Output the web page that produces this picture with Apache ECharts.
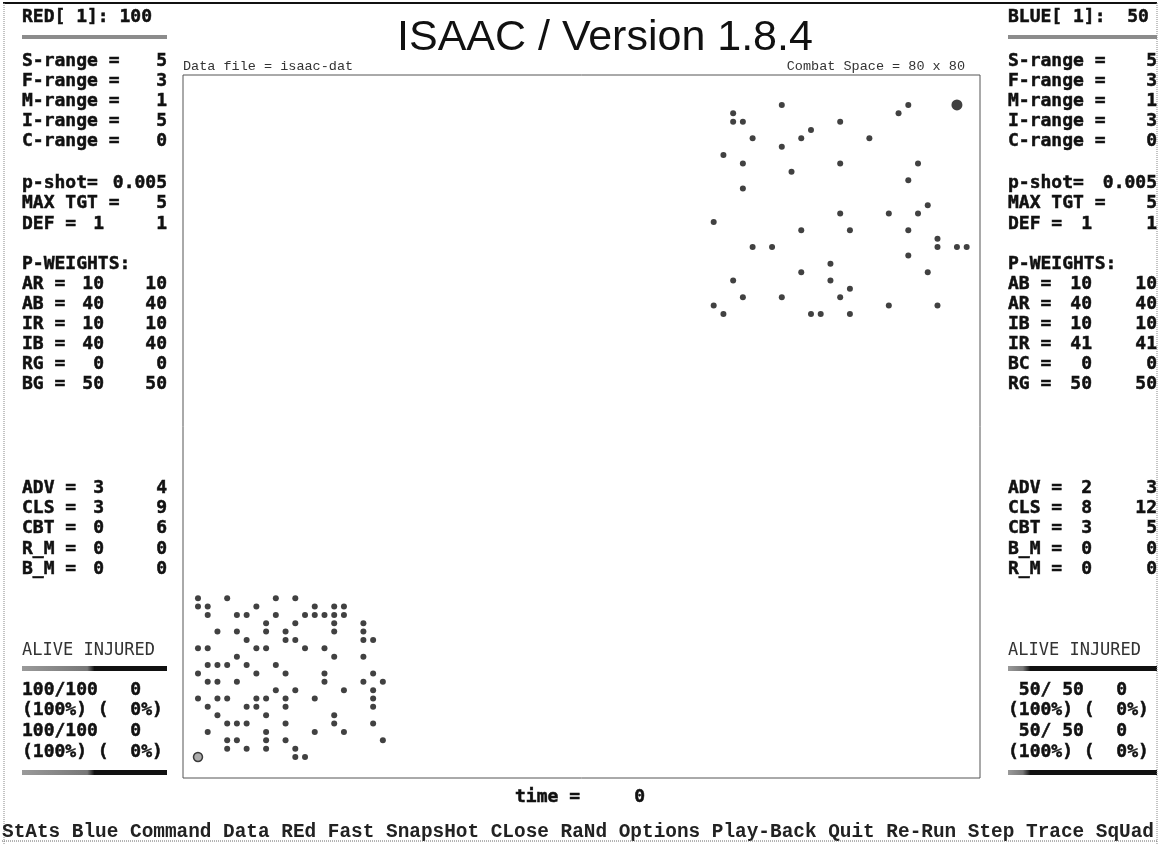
<!DOCTYPE html>
<html>
<head>
<meta charset="utf-8">
<title>ISAAC / Version 1.8.4</title>
<script src="https://cdn.jsdelivr.net/npm/echarts@6/dist/echarts.min.js"></script>
<style>
  html, body { margin: 0; padding: 0; background: #fff; }
  #main { width: 1160px; height: 844px; }
</style>
</head>
<body>
<div id="main"></div>
<script>
// agents on the 80 x 80 combat space, [column, row]
var blueAgents = [
  [60,78],[73,78],[55,77],[72,77],[55,76],[56,76],[66,76],[63,75],
  [57,74],[62,74],[69,74],[60,73],[54,72],[56,71],[66,71],[74,71],
  [61,70],[73,69],[56,68],[75,66],[66,65],[71,65],[74,65],[53,64],
  [62,63],[67,63],[73,63],[76,62],[57,61],[59,61],[76,61],[78,61],
  [79,61],[73,60],[65,59],[62,58],[75,58],[55,57],[65,57],[67,56],
  [56,55],[60,55],[66,55],[53,54],[71,54],[76,54],[54,53],[63,53],
  [64,53],[67,53]
];
var blueLeader = [[78,78]];

var redAgents = [
  [0,19],[3,19],[8,19],[10,19],
  [0,18],[1,18],[6,18],[12,18],[14,18],[15,18],
  [1,17],[4,17],[5,17],[8,17],[11,17],[12,17],[13,17],[14,17],[15,17],
  [7,16],[10,16],[14,16],[17,16],
  [2,15],[4,15],[7,15],[9,15],[14,15],[17,15],
  [5,14],[9,14],[10,14],[17,14],[18,14],
  [0,13],[1,13],[6,13],[7,13],[11,13],[13,13],
  [4,12],[14,12],[17,12],
  [1,11],[2,11],[3,11],[5,11],[8,11],
  [0,10],[6,10],[9,10],[13,10],[18,10],
  [1,9],[2,9],[4,9],[13,9],[17,9],[19,9],
  [8,8],[10,8],[15,8],[18,8],
  [0,7],[2,7],[3,7],[6,7],[7,7],[9,7],[12,7],[18,7],
  [1,6],[5,6],[6,6],[9,6],[18,6],
  [2,5],[7,5],[14,5],
  [3,4],[4,4],[5,4],[9,4],[14,4],[18,4],
  [1,3],[7,3],[12,3],[15,3],
  [3,2],[4,2],[7,2],[9,2],[19,2],
  [3,1],[5,1],[7,1],[10,1],
  [10,0],[11,0]
];
var redLeader = [[0,0]];

// side panel values
var redHeader = 'RED[ 1]: 100';
var blueHeader = 'BLUE[ 1]:  50';
var redRanges = [['S-range =','5'],['F-range =','3'],['M-range =','1'],['I-range =','5'],['C-range =','0']];
var blueRanges = [['S-range =','5'],['F-range =','3'],['M-range =','1'],['I-range =','3'],['C-range =','0']];
var redShot = [['p-shot=','0.005'],['MAX TGT =','5']];
var blueShot = [['p-shot=','0.005'],['MAX TGT =','5']];
var redDef = ['DEF =','1','1'];
var blueDef = ['DEF =','1','1'];
var redWeights = [['AR =','10','10'],['AB =','40','40'],['IR =','10','10'],['IB =','40','40'],['RG =','0','0'],['BG =','50','50']];
var blueWeights = [['AB =','10','10'],['AR =','40','40'],['IB =','10','10'],['IR =','41','41'],['BC =','0','0'],['RG =','50','50']];
var redMoves = [['ADV =','3','4'],['CLS =','3','9'],['CBT =','0','6'],['R_M =','0','0'],['B_M =','0','0']];
var blueMoves = [['ADV =','2','3'],['CLS =','8','12'],['CBT =','3','5'],['B_M =','0','0'],['R_M =','0','0']];
var redStatus = ['100/100   0','(100%) (  0%)','100/100   0','(100%) (  0%)'];
var blueStatus = [' 50/ 50   0','(100%) (  0%)',' 50/ 50   0','(100%) (  0%)'];
var menuItems = ['StAts','Blue','Command','Data','REd','Fast','SnapsHot','CLose','RaNd','Options','Play-Back','Quit','Re-Run','Step','Trace','SqUad'];
var timeStep = 0;

var mono = "'DejaVu Sans Mono', monospace";
var panelFont = 'bold 18px ' + mono;
var els = [];

function txt(x, y, s, align, font, color, heavy) {
  els.push({
    type: 'text', x: x, y: y, silent: true,
    style: {
      text: s, font: font || panelFont, fill: color || '#111',
      stroke: heavy === false ? null : (color || '#111'), lineWidth: heavy === false ? 0 : 0.5,
      align: align || 'left', verticalAlign: 'middle',
      textAlign: align || 'left', textVerticalAlign: 'middle'
    }
  });
}
function bar(x, y, w, h, fill) {
  els.push({ type: 'rect', silent: true, shape: { x: x, y: y, width: w, height: h }, style: { fill: fill } });
}
function line(x1, y1, x2, y2, color, width, dash) {
  els.push({ type: 'line', silent: true, shape: { x1: x1, y1: y1, x2: x2, y2: y2 },
    style: { stroke: color, lineWidth: width, lineDash: dash || null } });
}
function aliveBar(x, y, w, grayPart) {
  bar(x, y, w, 5, new echarts.graphic.LinearGradient(0, 0, 1, 0, [
    { offset: 0, color: '#9a9a9a' }, { offset: grayPart, color: '#777' },
    { offset: grayPart + 0.05, color: '#111' }, { offset: 1, color: '#111' }
  ]));
}

function panel(x0, x1, x2, header, ranges, shot, def, weights, moves, status, gray) {
  txt(x0, 17, header);
  bar(x0, 35, x2 - x0, 4, '#8c8c8c');
  ranges.forEach(function (r, i) { txt(x0, 61 + i * 20.2, r[0]); txt(x2, 61 + i * 20.2, r[1], 'right'); });
  shot.forEach(function (r, i) { txt(x0, 183 + i * 20.5, r[0]); txt(x2, 183 + i * 20.5, r[1], 'right'); });
  txt(x0, 224, def[0]); txt(x1, 224, def[1], 'right'); txt(x2, 224, def[2], 'right');
  txt(x0, 264, 'P-WEIGHTS:');
  weights.forEach(function (r, i) {
    txt(x0, 284 + i * 20, r[0]); txt(x1, 284 + i * 20, r[1], 'right'); txt(x2, 284 + i * 20, r[2], 'right');
  });
  moves.forEach(function (r, i) {
    txt(x0, 488 + i * 20.3, r[0]); txt(x1, 488 + i * 20.3, r[1], 'right'); txt(x2, 488 + i * 20.3, r[2], 'right');
  });
  txt(x0, 651, 'ALIVE INJURED', 'left', '17px ' + mono, '#333', false);
  aliveBar(x0, 666, x2 - x0, gray);
  status.forEach(function (s, i) { txt(x0, 690 + i * 20.7, s); });
  aliveBar(x0, 770, x2 - x0, gray);
}

panel(22, 104, 167, redHeader, redRanges, redShot, redDef, redWeights, redMoves, redStatus, 0.45);
panel(1008, 1092, 1157, blueHeader, blueRanges, blueShot, blueDef, blueWeights, blueMoves, blueStatus, 0.1);

// combat space captions
txt(183, 66, 'Data file = isaac-dat', 'left', '13.5px ' + "'Liberation Mono', monospace", '#333', false);
txt(965, 66, 'Combat Space = 80 x 80', 'right', '13.5px ' + "'Liberation Mono', monospace", '#333', false);

// time counter
txt(515, 797, 'time =', 'left');
txt(645, 797, String(timeStep), 'right');

// window frame and menu bar
line(3, 3, 1157, 3, '#111', 2);
line(4, 3, 4, 844, '#888', 1, [1, 1]);
line(1157, 3, 1157, 844, '#888', 1, [1, 1]);
txt(2, 832, menuItems.join(' '), 'left', "bold 19.4px 'Liberation Mono', monospace", '#222', false);
line(2, 841, 1157, 841, '#666', 1, [1, 1]);

var chart = echarts.init(document.getElementById('main'));
chart.setOption({
  animation: false,
  backgroundColor: '#fff',
  title: {
    text: 'ISAAC / Version 1.8.4',
    left: 392, top: 12,
    textStyle: { fontFamily: "'Liberation Sans', Arial, sans-serif", fontSize: 43, fontWeight: 'normal', color: '#111' }
  },
  grid: {
    left: 183, top: 75, width: 797, height: 703,
    show: true, borderColor: '#555', borderWidth: 1, backgroundColor: '#fff'
  },
  xAxis: { type: 'value', min: -1.54, max: 80.37, show: false, splitLine: { show: false } },
  yAxis: { type: 'value', min: -2.51, max: 81.58, show: false, splitLine: { show: false } },
  graphic: els,
  series: [
    { name: 'Blue', type: 'scatter', data: blueAgents, symbol: 'circle', symbolSize: 6, itemStyle: { color: '#111' } },
    { name: 'Blue leader', type: 'scatter', data: blueLeader, symbol: 'circle', symbolSize: 11, itemStyle: { color: '#111' } },
    { name: 'Red', type: 'scatter', data: redAgents, symbol: 'circle', symbolSize: 6, itemStyle: { color: '#111' } },
    { name: 'Red leader', type: 'scatter', data: redLeader, symbol: 'circle', symbolSize: 9,
      itemStyle: { color: '#999', borderColor: '#111', borderWidth: 1.5 } }
  ]
});
</script>
</body>
</html>
